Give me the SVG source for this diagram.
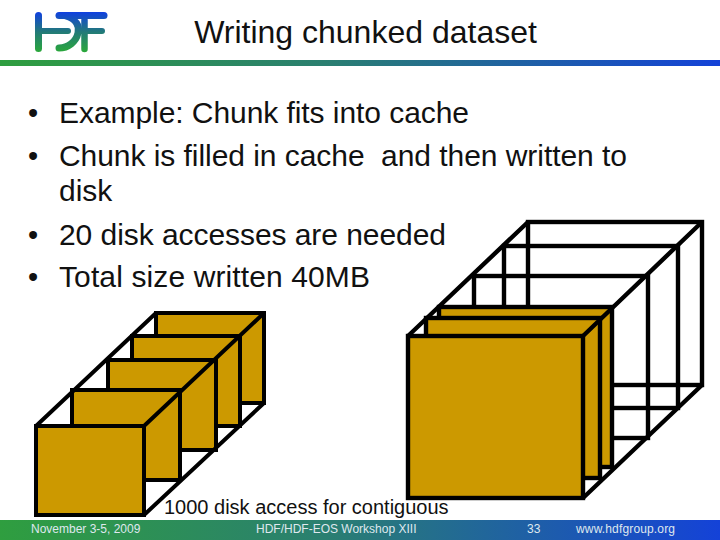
<svg xmlns="http://www.w3.org/2000/svg" width="720" height="540" viewBox="0 0 720 540">
<style>
text{font-family:"Liberation Sans",Arial,sans-serif}
.b{font-size:30px;fill:#111;white-space:pre}
.d{font-size:29px;fill:#111}
.f{font-size:12px;fill:#dfe8ee}
.p{fill:#cc9900;stroke:#000;stroke-width:4;stroke-linejoin:miter}
.l{stroke:#000;stroke-width:4;fill:none}
.q{fill:#cc9900;stroke:#000;stroke-width:4.4;stroke-linejoin:miter}
.m{stroke:#000;stroke-width:4.4;fill:none}
</style>
<defs>
<linearGradient id="h" x1="0" x2="1" y1="0" y2="0"><stop offset="0" stop-color="#2f9e3f"/><stop offset="0.45" stop-color="#2a7f70"/><stop offset="1" stop-color="#1442d8"/></linearGradient>
<linearGradient id="v" gradientUnits="userSpaceOnUse" x1="0" x2="0" y1="12" y2="52"><stop offset="0" stop-color="#1040e0"/><stop offset="0.5" stop-color="#227a78"/><stop offset="1" stop-color="#2aa83a"/></linearGradient>
</defs>
<g id="logo" fill="none" stroke="url(#v)" stroke-linecap="round">
<path stroke-width="7" d="M38.500 15.500V48.500"/>
<path stroke-width="6" d="M39 31H68"/>
<path stroke-width="7" d="M59 15.500H104"/>
<path stroke-width="7" d="M66 16C76 19 80 26 78 33C76 42 68 48 59 48"/>
<path stroke-width="6.500" d="M84.500 20V49"/>
<path stroke-width="6" d="M80 31H102"/>
</g>
<rect id="top-rule" x="0" y="60" width="720" height="6" fill="url(#h)"/>
<text id="title" x="365.500" y="43" font-size="32" fill="#111" text-anchor="middle">Writing chunked dataset</text>
<g id="bullets">
<text class="d" x="28" y="123">•</text><text class="b" x="59" y="123" textLength="410">Example: Chunk fits into cache</text>
<text class="d" x="28" y="166">•</text><text class="b" x="59" y="166" textLength="568">Chunk is filled in cache  and then written to</text>
<text class="b" x="59" y="201">disk</text>
<text class="d" x="28" y="245">•</text><text class="b" x="59" y="245" textLength="387">20 disk accesses are needed</text>
<text class="d" x="28" y="287">•</text><text class="b" x="59" y="287" textLength="311">Total size written 40MB</text>
</g>
<g id="left-stack">
<g id="l1"><rect class="p" x="156" y="313" width="108" height="90"/></g>
<g id="l2"><rect class="p" x="132" y="336" width="108" height="90"/></g>
<g id="l3"><rect class="p" x="108" y="360" width="108" height="90"/></g>
<g id="l4"><rect class="p" x="72" y="390" width="108" height="90"/></g>
<g id="l5"><rect class="p" x="36" y="426" width="108" height="89"/></g>
<g id="left-edges" class="l"><path d="M36 426L156 313M144 426L264 313M144 515L264 403"/></g>
</g>
<g id="right-stack">
<g id="r1" class="m"><rect x="528" y="222" width="174" height="163"/></g>
<g id="r2" class="m"><rect x="504" y="246" width="174" height="162"/></g>
<g id="r3" class="m"><rect x="474" y="276" width="174" height="162"/></g>
<g id="r4"><rect class="q" x="439" y="307" width="173" height="160"/></g>
<g id="r5"><rect class="q" x="426" y="318" width="174" height="160"/></g>
<g id="right-edges" class="m"><path d="M408 336L528 222M583 336L702 222M583 498L702 385"/></g>
<g id="r6"><rect class="q" x="408" y="336" width="175" height="162"/></g>
</g>
<text id="caption" x="164" y="514" font-size="20" fill="#111">1000 disk access for contiguous</text>
<g id="footer">
<rect x="0" y="520" width="720" height="20" fill="url(#h)"/>
<text class="f" x="31" y="533">November 3-5, 2009</text>
<text class="f" x="256" y="533">HDF/HDF-EOS Workshop XIII</text>
<text class="f" x="527" y="533">33</text>
<text class="f" x="576" y="533" textLength="99">www.hdfgroup.org</text>
</g>
</svg>
